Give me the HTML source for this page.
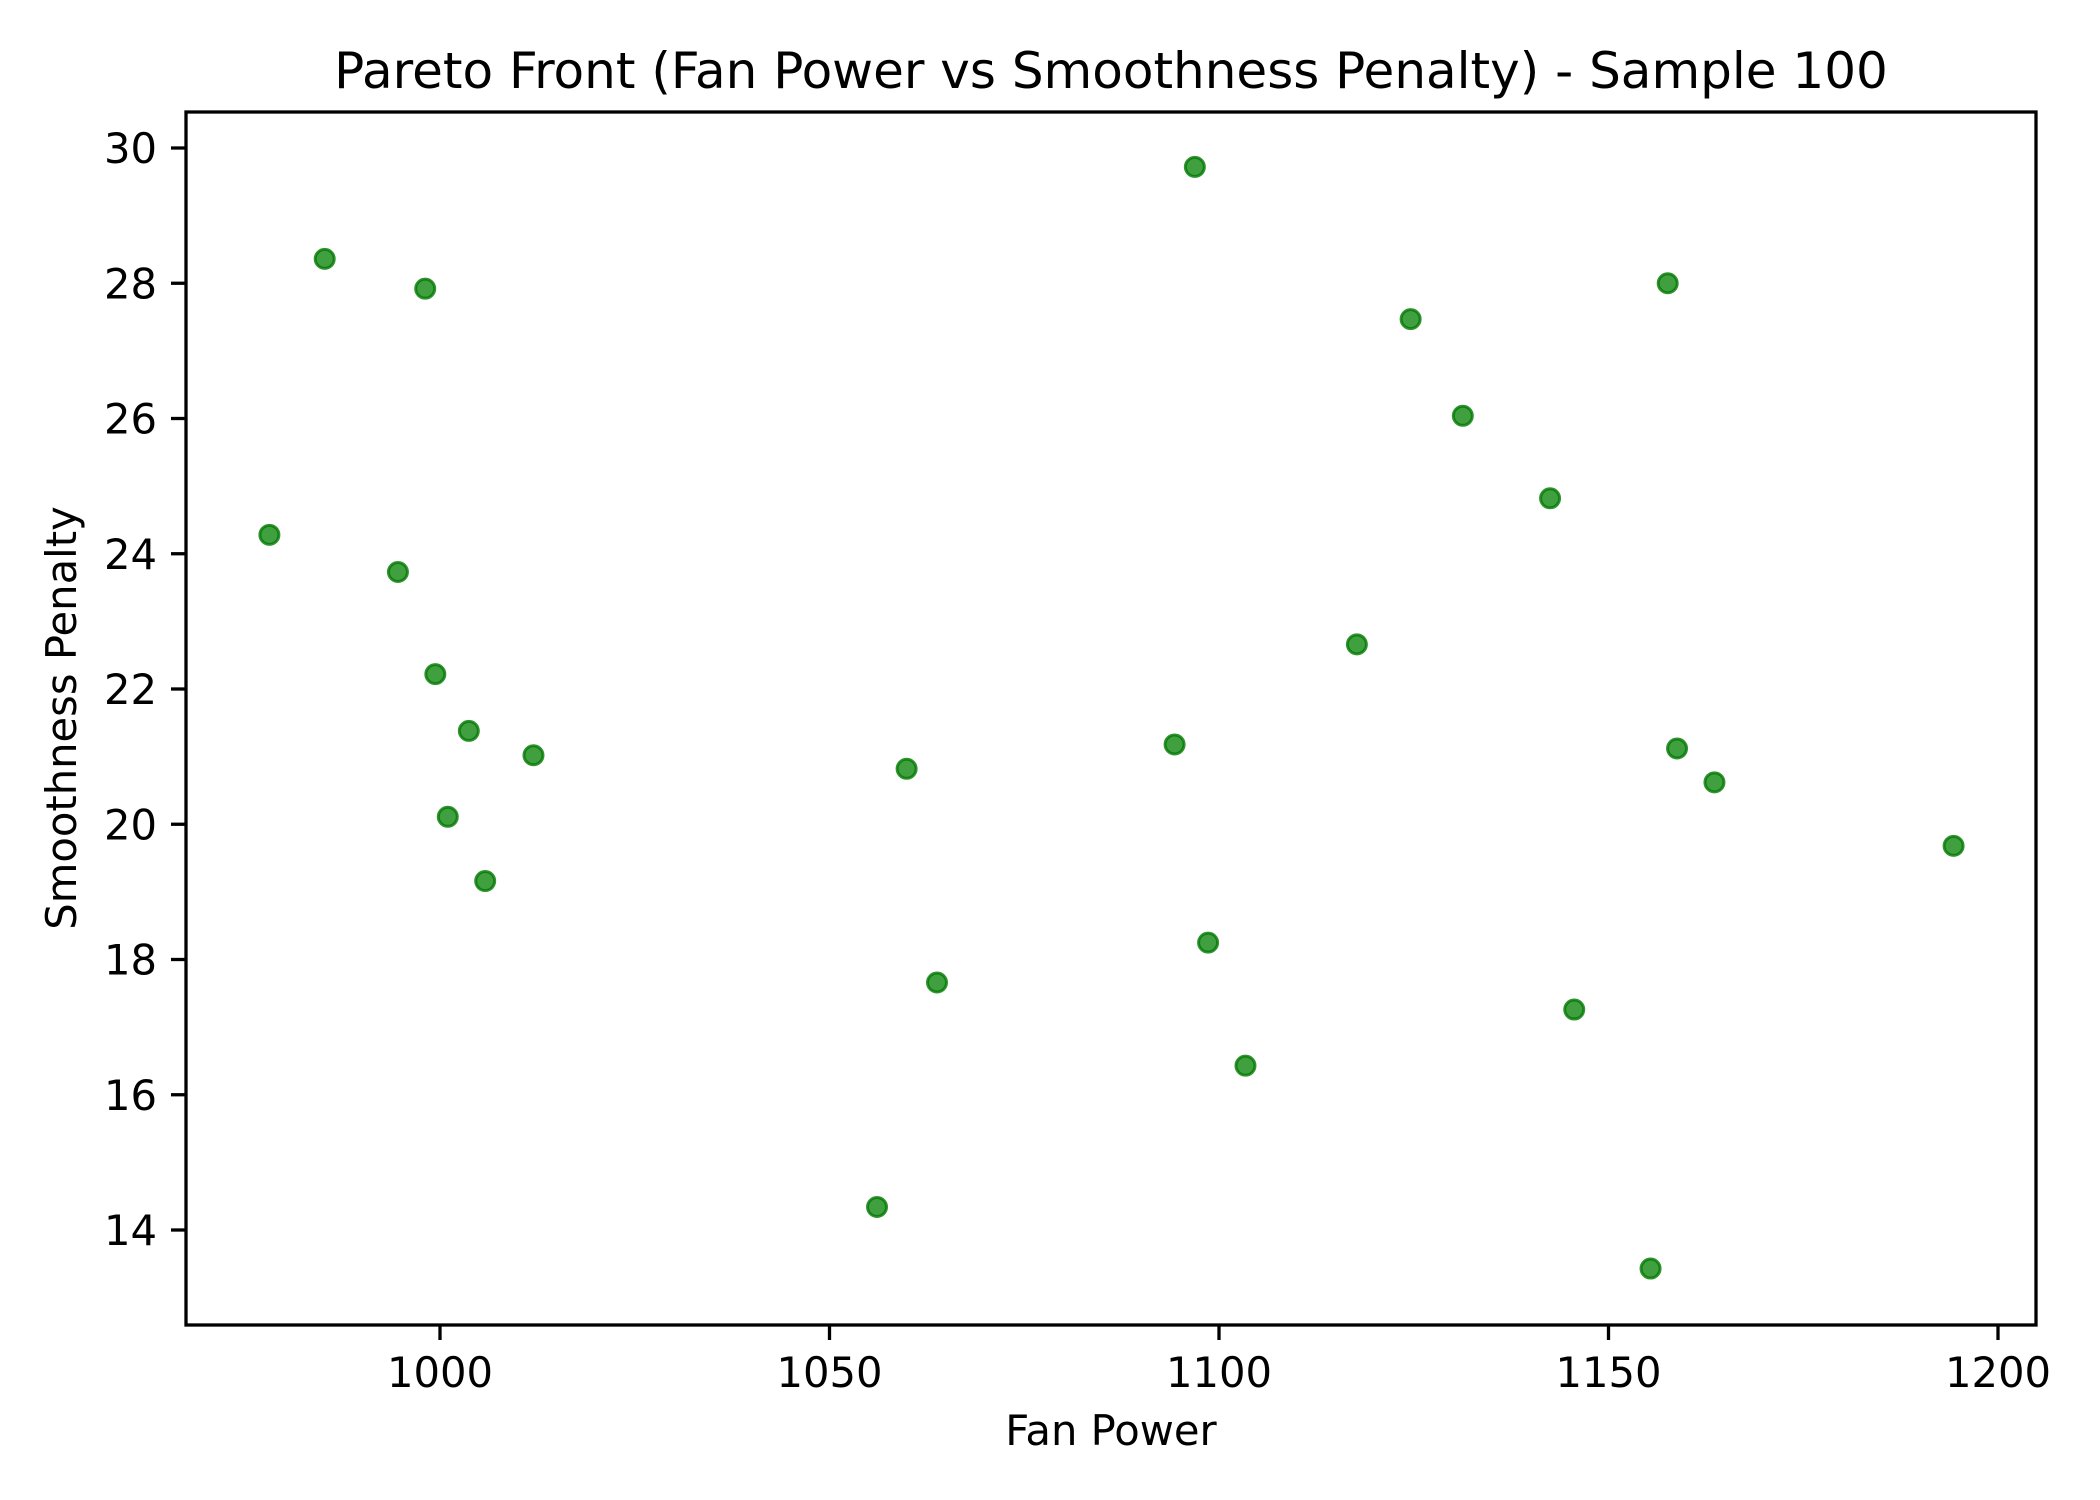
<!DOCTYPE html>
<html><head><meta charset="utf-8"><style>html,body{margin:0;padding:0;background:#fff}svg{display:block}</style></head>
<body>
<svg id="chart" width="2100" height="1500" xmlns="http://www.w3.org/2000/svg" font-family="DejaVu Sans, Liberation Sans, sans-serif">
<rect width="2100" height="1500" fill="#fff"/>
<text x="1111" y="88" font-size="50" text-anchor="middle">Pareto Front (Fan Power vs Smoothness Penalty) - Sample 100</text>
<g id="marks"></g>
<g id="axes"></g>
<rect x="186" y="112" width="1850" height="1213" fill="none" stroke="#000" stroke-width="3.3"/>
<text x="1111" y="1445" font-size="41.7" text-anchor="middle">Fan Power</text>
<text transform="translate(76,718) rotate(-90)" font-size="41.7" text-anchor="middle">Smoothness Penalty</text>
</svg>
<script>
const fanPower = [985.2,998.1,978.1,994.6,999.4,1003.7,1012.0,1001.0,1005.8,1059.9,1063.8,1056.1,1096.9,1094.3,1098.6,1103.4,1117.7,1124.6,1131.3,1142.5,1157.6,1158.8,1163.6,1145.6,1155.4,1194.3];
const smoothness = [28.36,27.92,24.28,23.73,22.22,21.38,21.02,20.11,19.16,20.82,17.66,14.34,29.72,21.18,18.25,16.43,22.66,27.47,26.04,24.82,28.00,21.12,20.62,17.26,13.43,19.68];
const xTicks = [1000,1050,1100,1150,1200];
const yTicks = [14,16,18,20,22,24,26,28,30];

const NS = 'http://www.w3.org/2000/svg';
function xs(v){ return 440 + (v-1000)*(1998-440)/200; }
function ys(v){ return 148 + (30-v)*(1230-148)/16; }
const marks = document.getElementById('marks');
const axes = document.getElementById('axes');
for (let i=0;i<fanPower.length;i++){
  const c = document.createElementNS(NS,'circle');
  c.setAttribute('cx', xs(fanPower[i]));
  c.setAttribute('cy', ys(smoothness[i]));
  c.setAttribute('r', 9.5);
  c.setAttribute('fill', 'rgba(0,128,0,0.75)');
  c.setAttribute('stroke', 'rgba(0,120,0,0.8)');
  c.setAttribute('stroke-width', 3);
  
  
  marks.appendChild(c);
}
xTicks.forEach(t=>{
  const x = xs(t);
  const l = document.createElementNS(NS,'line');
  l.setAttribute('x1',x); l.setAttribute('x2',x); l.setAttribute('y1',1325); l.setAttribute('y2',1340);
  l.setAttribute('stroke','#000'); l.setAttribute('stroke-width',3.3);
  
  
  axes.appendChild(l);
  const tx = document.createElementNS(NS,'text');
  tx.setAttribute('x',x); tx.setAttribute('y',1387); tx.setAttribute('font-size',41.7); tx.setAttribute('text-anchor','middle');
  tx.textContent = t;
  
  
  axes.appendChild(tx);
});
yTicks.forEach(t=>{
  const y = ys(t);
  const l = document.createElementNS(NS,'line');
  l.setAttribute('x1',171); l.setAttribute('x2',186); l.setAttribute('y1',y); l.setAttribute('y2',y);
  l.setAttribute('stroke','#000'); l.setAttribute('stroke-width',3.3);
  
  
  axes.appendChild(l);
  const tx = document.createElementNS(NS,'text');
  tx.setAttribute('x',157); tx.setAttribute('y',y+15); tx.setAttribute('font-size',41.7); tx.setAttribute('text-anchor','end');
  tx.textContent = t;
  
  
  axes.appendChild(tx);
});
</script>
</body></html>
